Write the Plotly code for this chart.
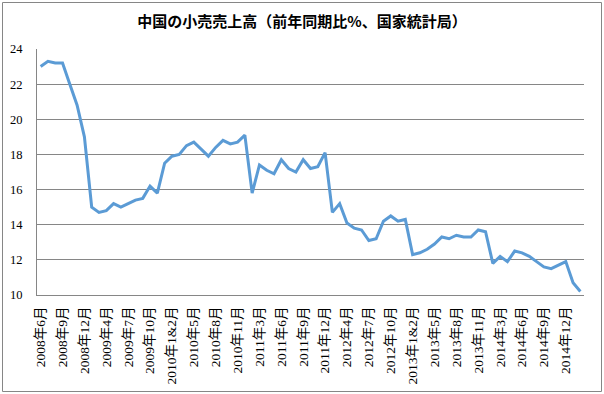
import plotly.graph_objects as go

# categories: monthly, Jan & Feb combined from 2009 onward
categories = (
    [f"2008年{m}月" for m in range(6, 13)]
    + [c for y in range(2009, 2015) for c in ([f"{y}年1&2月"] + [f"{y}年{m}月" for m in range(3, 13)])]
    + ["2015年1&2月", "2015年3月"]
)

values = [
    23.0, 23.3, 23.2, 23.2, 22.0, 20.8, 19.0,
    15.0, 14.7, 14.8, 15.2, 15.0, 15.2, 15.4, 15.5, 16.2, 15.8, 17.5,
    17.9, 18.0, 18.5, 18.7, 18.3, 17.9, 18.4, 18.8, 18.6, 18.7, 19.1,
    15.8, 17.4, 17.1, 16.9, 17.7, 17.2, 17.0, 17.7, 17.2, 17.3, 18.1,
    14.7, 15.2, 14.1, 13.8, 13.7, 13.1, 13.2, 14.2, 14.5, 14.2, 14.3,
    12.3, 12.4, 12.6, 12.9, 13.3, 13.2, 13.4, 13.3, 13.3, 13.7, 13.6,
    11.8, 12.2, 11.9, 12.5, 12.4, 12.2, 11.9, 11.6, 11.5, 11.7, 11.9,
    10.7, 10.2,
]

tick_labels = categories[0:73:3]
y_ticks = [10, 12, 14, 16, 18, 20, 22, 24]

title = "中国の小売売上高（前年同期比%、国家統計局）"

fig = go.Figure()
fig.add_trace(go.Scatter(
    x=list(range(len(categories))), y=values, mode="lines",
    line=dict(color="#5B9BD5", width=3),
    hoverinfo="skip",
))

W, H = 604, 394
L, R, T, B = 37, 20, 49, 99
pw, ph = W - L - R, H - T - B

fig.update_layout(
    width=W, height=H,
    margin=dict(l=L, r=R, t=T, b=B, autoexpand=False),
    paper_bgcolor="white", plot_bgcolor="white",
    showlegend=False,
    title=dict(text=title, x=0.5, xref="container", xanchor="center", y=1 - 22 / H, yanchor="middle",
               font=dict(family="Noto Sans CJK JP", size=15, color="#000000", weight="bold")),
    xaxis=dict(
        range=[-0.5, len(categories) - 0.5],
        tickmode="array",
        tickvals=list(range(0, 73, 3)),
        ticktext=tick_labels,
        tickangle=-90,
        tickfont=dict(family="Liberation Serif, Noto Sans CJK JP", size=13.5, color="#000000"),
        showgrid=False, zeroline=False,
        showline=True, linecolor="#868686", linewidth=1,
        ticks="", ticklabelstandoff=5,
        automargin=False,
    ),
    yaxis=dict(
        range=[10, 24],
        tickvals=y_ticks,
        tickfont=dict(family="Liberation Serif", size=12.5, color="#000000"),
        showgrid=True, gridcolor="#868686", gridwidth=1,
        zeroline=False,
        showline=True, linecolor="#868686", linewidth=1,
        ticks="", ticklabelstandoff=11,
        automargin=False,
    ),
    shapes=[dict(
        type="rect", xref="paper", yref="paper",
        x0=(2.5 - L) / pw, x1=(601.5 - L) / pw,
        y0=-(391.5 - T - ph) / ph, y1=1 + (T - 2.5) / ph,
        line=dict(color="#868686", width=1), fillcolor="rgba(0,0,0,0)", layer="below",
    )],
)

fig.write_html("out.html", config={"displayModeBar": False},
               post_script="document.body.style.margin='0';document.body.style.padding='0';")
